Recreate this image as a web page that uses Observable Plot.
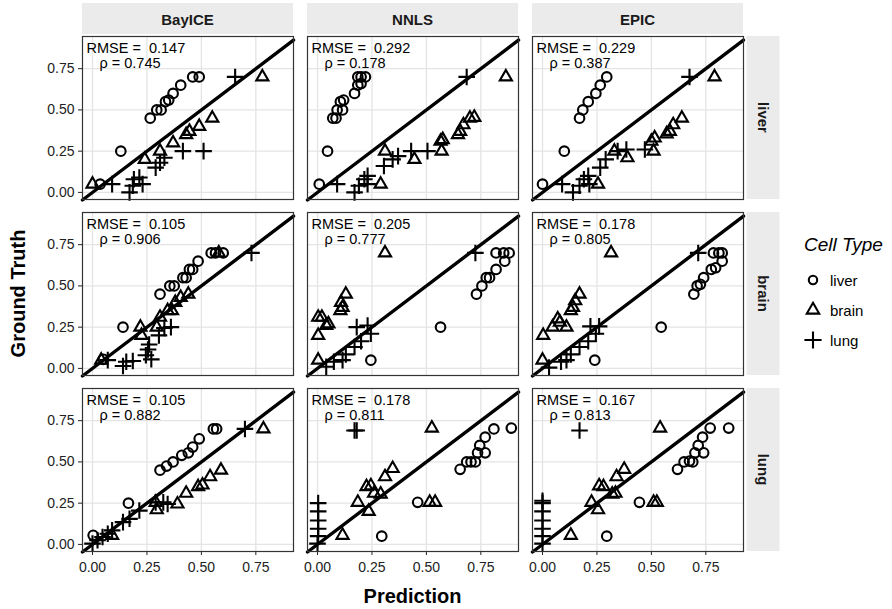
<!DOCTYPE html>
<html><head><meta charset="utf-8">
<script src="https://cdn.jsdelivr.net/npm/d3@7"></script>
<script src="https://cdn.jsdelivr.net/npm/@observablehq/plot@0.6"></script>
<style>
html,body{margin:0;padding:0;background:#fff;}
#chart{width:892px;height:609px;}
</style></head><body><div id="chart"></div>
<script>
// ---------------- data ----------------
const methods = ["BayICE", "NNLS", "EPIC"];
const tissues = ["liver", "brain", "lung"];
const cellTypes = ["liver", "brain", "lung"];
const xTicks = [0, 0.25, 0.5, 0.75];
const yTicks = [0, 0.25, 0.5, 0.75];

// RMSE and rho, rows = tissue facet (liver, brain, lung), cols = method (BayICE, NNLS, EPIC)
const rmseLiver = ["0.147", "0.292", "0.229"];
const rmseBrain = ["0.105", "0.205", "0.178"];
const rmseLung  = ["0.105", "0.178", "0.167"];
const rhoLiver  = ["0.745", "0.178", "0.387"];
const rhoBrain  = ["0.906", "0.777", "0.805"];
const rhoLung   = ["0.882", "0.811", "0.813"];

// points: [prediction, ground truth]
const bayice_liver = {
  liver: [[0.035,0.05],[0.13,0.25],[0.265,0.45],[0.295,0.5],[0.315,0.5],[0.335,0.55],[0.35,0.56],[0.37,0.6],[0.405,0.65],[0.46,0.7],[0.49,0.7]],
  brain: [[0.0,0.05],[0.24,0.2],[0.31,0.25],[0.37,0.3],[0.43,0.35],[0.445,0.37],[0.49,0.4],[0.55,0.45],[0.78,0.7]],
  lung:  [[0.09,0.05],[0.17,0.0],[0.185,0.04],[0.19,0.08],[0.215,0.09],[0.23,0.05],[0.29,0.15],[0.31,0.18],[0.33,0.21],[0.415,0.25],[0.51,0.25],[0.655,0.7]]
};
const nnls_liver = {
  liver: [[0.008,0.05],[0.046,0.25],[0.07,0.45],[0.085,0.45],[0.09,0.5],[0.115,0.5],[0.105,0.55],[0.12,0.56],[0.17,0.6],[0.185,0.65],[0.2,0.66],[0.185,0.7],[0.2,0.7],[0.22,0.7]],
  brain: [[0.31,0.25],[0.29,0.05],[0.445,0.2],[0.57,0.25],[0.565,0.31],[0.575,0.32],[0.645,0.35],[0.655,0.37],[0.67,0.41],[0.7,0.45],[0.72,0.455],[0.865,0.7]],
  lung:  [[0.09,0.05],[0.17,0.0],[0.19,0.04],[0.215,0.08],[0.23,0.1],[0.23,0.05],[0.305,0.16],[0.345,0.2],[0.37,0.22],[0.43,0.25],[0.505,0.25],[0.685,0.7]]
};
const epic_liver = {
  liver: [[0.0,0.05],[0.1,0.25],[0.17,0.45],[0.185,0.5],[0.21,0.55],[0.245,0.6],[0.265,0.65],[0.295,0.7]],
  brain: [[0.33,0.25],[0.255,0.05],[0.39,0.21],[0.51,0.25],[0.5,0.31],[0.515,0.33],[0.57,0.355],[0.585,0.37],[0.6,0.41],[0.64,0.45],[0.79,0.7]],
  lung:  [[0.09,0.05],[0.14,0.0],[0.17,0.04],[0.19,0.08],[0.21,0.1],[0.215,0.05],[0.265,0.15],[0.29,0.2],[0.345,0.25],[0.385,0.26],[0.47,0.26],[0.675,0.7]]
};
const bayice_brain = {
  liver: [[0.14,0.25],[0.05,0.055],[0.31,0.45],[0.355,0.5],[0.375,0.5],[0.415,0.55],[0.43,0.55],[0.445,0.6],[0.46,0.6],[0.485,0.65],[0.545,0.7],[0.565,0.7],[0.6,0.7]],
  brain: [[0.04,0.05],[0.22,0.25],[0.225,0.2],[0.295,0.25],[0.31,0.31],[0.345,0.35],[0.365,0.35],[0.38,0.4],[0.405,0.43],[0.44,0.45],[0.58,0.7]],
  lung:  [[0.07,0.05],[0.14,0.015],[0.155,0.04],[0.185,0.045],[0.245,0.08],[0.255,0.115],[0.26,0.145],[0.27,0.055],[0.305,0.2],[0.33,0.245],[0.36,0.25],[0.73,0.7]]
};
const nnls_brain = {
  liver: [[0.245,0.05],[0.565,0.25],[0.73,0.45],[0.755,0.5],[0.775,0.55],[0.79,0.55],[0.82,0.6],[0.86,0.65],[0.82,0.7],[0.855,0.7],[0.88,0.7]],
  brain: [[0.003,0.05],[0.003,0.2],[0.003,0.31],[0.02,0.31],[0.04,0.26],[0.05,0.27],[0.105,0.35],[0.115,0.37],[0.108,0.4],[0.13,0.45],[0.31,0.7]],
  lung:  [[0.04,0.01],[0.075,0.04],[0.115,0.05],[0.13,0.085],[0.17,0.13],[0.2,0.165],[0.18,0.25],[0.23,0.26],[0.245,0.21],[0.725,0.7]]
};
const epic_brain = {
  liver: [[0.24,0.05],[0.545,0.25],[0.695,0.45],[0.71,0.5],[0.725,0.51],[0.74,0.55],[0.775,0.6],[0.795,0.61],[0.825,0.65],[0.785,0.7],[0.81,0.7],[0.825,0.7]],
  brain: [[0.0,0.05],[0.003,0.2],[0.046,0.25],[0.07,0.3],[0.08,0.28],[0.11,0.25],[0.13,0.35],[0.14,0.37],[0.15,0.41],[0.17,0.45],[0.315,0.7]],
  lung:  [[0.03,0.005],[0.085,0.04],[0.11,0.05],[0.13,0.085],[0.17,0.13],[0.21,0.165],[0.22,0.255],[0.26,0.255],[0.245,0.21],[0.715,0.7]]
};
const bayice_lung = {
  liver: [[0.003,0.055],[0.165,0.25],[0.31,0.45],[0.34,0.475],[0.37,0.5],[0.41,0.54],[0.44,0.555],[0.46,0.59],[0.49,0.64],[0.555,0.7],[0.57,0.7]],
  brain: [[0.09,0.055],[0.295,0.21],[0.29,0.255],[0.39,0.245],[0.43,0.31],[0.485,0.35],[0.505,0.36],[0.54,0.41],[0.59,0.45],[0.785,0.7]],
  lung:  [[0.0,0.005],[0.023,0.025],[0.046,0.045],[0.07,0.065],[0.09,0.085],[0.14,0.135],[0.17,0.155],[0.215,0.205],[0.29,0.255],[0.325,0.255],[0.345,0.245],[0.70,0.7]]
};
const nnls_lung = {
  liver: [[0.295,0.05],[0.46,0.255],[0.655,0.455],[0.685,0.5],[0.705,0.5],[0.725,0.5],[0.735,0.555],[0.77,0.555],[0.745,0.6],[0.77,0.65],[0.81,0.7],[0.89,0.705]],
  brain: [[0.115,0.055],[0.235,0.2],[0.185,0.255],[0.225,0.35],[0.245,0.355],[0.26,0.31],[0.29,0.305],[0.31,0.41],[0.345,0.46],[0.515,0.255],[0.54,0.255],[0.525,0.705]],
  lung:  [[0.0,0.005],[0.003,0.05],[0.003,0.095],[0.003,0.145],[0.003,0.2],[0.003,0.25],[0.17,0.69],[0.18,0.69]]
};
const epic_lung = {
  liver: [[0.295,0.05],[0.445,0.255],[0.62,0.455],[0.65,0.5],[0.675,0.505],[0.69,0.5],[0.70,0.555],[0.74,0.555],[0.715,0.6],[0.735,0.65],[0.77,0.705],[0.855,0.705]],
  brain: [[0.13,0.055],[0.255,0.21],[0.225,0.255],[0.26,0.355],[0.28,0.35],[0.32,0.305],[0.335,0.31],[0.34,0.41],[0.375,0.455],[0.51,0.255],[0.525,0.255],[0.54,0.705]],
  lung:  [[0.0,0.005],[0.0,0.05],[0.0,0.095],[0.0,0.145],[0.0,0.2],[0.0,0.25],[0.0,0.265],[0.17,0.69]]
};

// ---------------- build tables ----------------
const panels = {
  liver: [bayice_liver, nnls_liver, epic_liver],
  brain: [bayice_brain, nnls_brain, epic_brain],
  lung:  [bayice_lung, nnls_lung, epic_lung]
};
const rmseRows = {liver: rmseLiver, brain: rmseBrain, lung: rmseLung};
const rhoRows = {liver: rhoLiver, brain: rhoBrain, lung: rhoLung};

const points = [];
const stats = [];
for (const t of tissues) {
  methods.forEach((m, i) => {
    const p = panels[t][i];
    for (const c of cellTypes) for (const [pred, truth] of p[c]) points.push({method: m, tissue: t, cell: c, pred, truth});
    stats.push({method: m, tissue: t, rmse: rmseRows[t][i], rho: rhoRows[t][i]});
  });
}

const FONT = "'Liberation Sans', Arial, Helvetica, sans-serif";
const xDomain = [-0.046, 0.923];
const yDomain = [-0.043, 0.945];
const symbolOf = {liver: "circle", brain: "triangle", lung: "plus"};
const rOf = {liver: 4.8, brain: 4.5, lung: 5.4};

const dotMarks = cellTypes.map(c => Plot.dot(points.filter(d => d.cell === c), {
  x: "pred", y: "truth", fx: "method", fy: "tissue",
  symbol: symbolOf[c], r: rOf[c], stroke: "#000", fill: "none", strokeWidth: 2.1
}));

const plot = Plot.plot({
  width: 892, height: 609,
  marginLeft: 81, marginRight: 148.7, marginTop: 36, marginBottom: 57.4,
  style: {fontFamily: FONT, fontSize: "14px", color: "#222", background: "#fff", overflow: "visible"},
  x: {domain: xDomain, ticks: xTicks, tickFormat: d3.format(".2f"), label: null, tickSize: 4, tickPadding: 7},
  y: {domain: yDomain, ticks: yTicks, tickFormat: d3.format(".2f"), label: null, tickSize: 4, tickPadding: 4},
  fx: {domain: methods, axis: null, paddingInner: 0.0617, paddingOuter: 0},
  fy: {domain: tissues, axis: null, paddingInner: 0.0755, paddingOuter: 0},
  marks: [
    Plot.ruleX(xTicks, {stroke: "#e4e4e4", strokeWidth: 1.3}),
    Plot.ruleY(yTicks, {stroke: "#e4e4e4", strokeWidth: 1.3}),
    Plot.line(xDomain.map(v => [v, v]), {stroke: "#000", strokeWidth: 3.4}),
    ...dotMarks,
    Plot.text(stats, {fx: "method", fy: "tissue", text: d => "RMSE = \u00a0" + d.rmse,
      frameAnchor: "top-left", textAnchor: "start", lineAnchor: "top", dx: 4, dy: 6, fontSize: 14.5, fill: "#000"}),
    Plot.text(stats, {fx: "method", fy: "tissue", text: d => "\u03c1 = " + d.rho,
      frameAnchor: "top-left", textAnchor: "start", lineAnchor: "top", dx: 17, dy: 21, fontSize: 14.5, fill: "#000"}),
    Plot.frame({stroke: "#333", strokeWidth: 1.2})
  ]
});

document.getElementById("chart").appendChild(plot);

// ---------------- strips, titles, legend ----------------
const svg = d3.select(plot);
const fx = plot.scale("fx"), fy = plot.scale("fy");
const fxBW = fx.bandwidth, fyBW = fy.bandwidth;
const stripFill = "#ebebeb";
const g = svg.append("g").attr("font-family", FONT);

for (const m of methods) {
  const x0 = fx.apply(m);
  g.append("rect").attr("x", x0).attr("y", 3).attr("width", fxBW).attr("height", 31).attr("fill", stripFill);
  g.append("text").attr("x", x0 + fxBW / 2).attr("y", 19).attr("text-anchor", "middle")
    .attr("dominant-baseline", "central").attr("font-weight", "bold").attr("font-size", 15).attr("fill", "#1a1a1a").text(m);
}
const lastX = fx.apply(methods[methods.length - 1]) + fxBW;
for (const t of tissues) {
  const y0 = fy.apply(t);
  g.append("rect").attr("x", lastX + 3.5).attr("y", y0).attr("width", 33).attr("height", fyBW).attr("fill", stripFill);
  g.append("text").attr("transform", `translate(${lastX + 20},${y0 + fyBW / 2}) rotate(90)`)
    .attr("text-anchor", "middle").attr("dominant-baseline", "central")
    .attr("font-weight", "bold").attr("font-size", 15).attr("fill", "#1a1a1a").text(t);
}

// axis titles
const firstX = fx.apply(methods[0]);
g.append("text").attr("x", (firstX + lastX) / 2).attr("y", 596).attr("text-anchor", "middle")
  .attr("dominant-baseline", "central").attr("font-weight", "bold").attr("font-size", 20).attr("fill", "#000").text("Prediction");
const topY = fy.apply(tissues[0]), botY = fy.apply(tissues[tissues.length - 1]) + fyBW;
g.append("text").attr("transform", `translate(18,${(topY + botY) / 2}) rotate(-90)`).attr("text-anchor", "middle")
  .attr("dominant-baseline", "central").attr("font-weight", "bold").attr("font-size", 20).attr("fill", "#000").text("Ground Truth");

// legend
const lg = g.append("g").attr("text-anchor", "start");
lg.append("text").attr("x", 804).attr("y", 244).attr("text-anchor", "start").attr("dominant-baseline", "central")
  .attr("font-style", "italic").attr("font-size", 19).attr("fill", "#000").text("Cell Type");
const symD3 = {liver: d3.symbolCircle, brain: d3.symbolTriangle, lung: d3.symbolPlus};
const legendR = {liver: 4.2, brain: 4.6, lung: 5.6};
cellTypes.forEach((c, i) => {
  const yy = 280 + i * 30;
  lg.append("path").attr("transform", `translate(813,${yy})`)
    .attr("d", d3.symbol(symD3[c], Math.PI * legendR[c] * legendR[c])())
    .attr("fill", "none").attr("stroke", "#000").attr("stroke-width", 2.1);
  lg.append("text").attr("x", 830).attr("y", yy).attr("text-anchor", "start").attr("dominant-baseline", "central")
    .attr("font-size", 15).attr("fill", "#000").text(c);
});
</script></body></html>
